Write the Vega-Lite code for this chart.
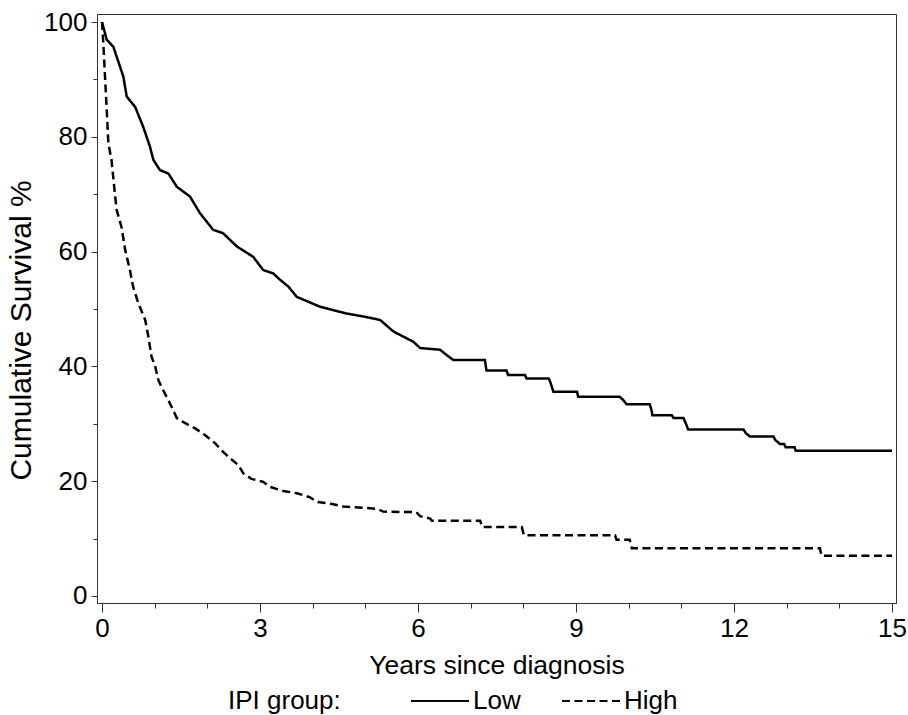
{
  "$schema": "https://vega.github.io/schema/vega-lite/v6.json",
  "autosize": "none",
  "width": 799,
  "height": 589,
  "padding": {"left": 97, "top": 14, "right": 12, "bottom": 112},
  "background": "white",
  "config": {
    "font": "Liberation Sans",
    "view": {"stroke": "#333", "strokeWidth": 1},
    "axis": {"grid": false, "domainColor": "#333", "tickColor": "#333", "labelColor": "black", "titleColor": "black", "labelFont": "Liberation Sans", "titleFont": "Liberation Sans", "titleFontWeight": "normal", "labelFontSize": 26}
  },
  "data": {"values": [
    {"group": "Low", "t": 0, "s": 100},
    {"group": "Low", "t": 0.09, "s": 96.9},
    {"group": "Low", "t": 0.215, "s": 95.7},
    {"group": "Low", "t": 0.405, "s": 90.5},
    {"group": "Low", "t": 0.47, "s": 87},
    {"group": "Low", "t": 0.63, "s": 85.2},
    {"group": "Low", "t": 0.78, "s": 81.8},
    {"group": "Low", "t": 0.91, "s": 78.3},
    {"group": "Low", "t": 0.975, "s": 76},
    {"group": "Low", "t": 1.1, "s": 74.2},
    {"group": "Low", "t": 1.26, "s": 73.6},
    {"group": "Low", "t": 1.42, "s": 71.3},
    {"group": "Low", "t": 1.67, "s": 69.6},
    {"group": "Low", "t": 1.86, "s": 66.7},
    {"group": "Low", "t": 2.11, "s": 63.8},
    {"group": "Low", "t": 2.3, "s": 63.2},
    {"group": "Low", "t": 2.56, "s": 60.9},
    {"group": "Low", "t": 2.87, "s": 59.1},
    {"group": "Low", "t": 3.06, "s": 56.8},
    {"group": "Low", "t": 3.25, "s": 56.2},
    {"group": "Low", "t": 3.38, "s": 55.1},
    {"group": "Low", "t": 3.54, "s": 53.9},
    {"group": "Low", "t": 3.7, "s": 52.1},
    {"group": "Low", "t": 4.14, "s": 50.4},
    {"group": "Low", "t": 4.65, "s": 49.2},
    {"group": "Low", "t": 4.96, "s": 48.7},
    {"group": "Low", "t": 5.28, "s": 48.1},
    {"group": "Low", "t": 5.53, "s": 46.1},
    {"group": "Low", "t": 5.91, "s": 44.3},
    {"group": "Low", "t": 6.04, "s": 43.2},
    {"group": "Low", "t": 6.42, "s": 42.9},
    {"group": "Low", "t": 6.5, "s": 42.3},
    {"group": "Low", "t": 6.67, "s": 41.1},
    {"group": "Low", "t": 7.27, "s": 41.1},
    {"group": "Low", "t": 7.3, "s": 39.3},
    {"group": "Low", "t": 7.68, "s": 39.3},
    {"group": "Low", "t": 7.71, "s": 38.5},
    {"group": "Low", "t": 8.03, "s": 38.5},
    {"group": "Low", "t": 8.06, "s": 37.9},
    {"group": "Low", "t": 8.48, "s": 37.9},
    {"group": "Low", "t": 8.51, "s": 37.3},
    {"group": "Low", "t": 8.57, "s": 35.6},
    {"group": "Low", "t": 9.02, "s": 35.6},
    {"group": "Low", "t": 9.04, "s": 34.7},
    {"group": "Low", "t": 9.83, "s": 34.7},
    {"group": "Low", "t": 9.9, "s": 34.1},
    {"group": "Low", "t": 9.96, "s": 33.4},
    {"group": "Low", "t": 10.4, "s": 33.4},
    {"group": "Low", "t": 10.43, "s": 32.5},
    {"group": "Low", "t": 10.45, "s": 31.5},
    {"group": "Low", "t": 10.82, "s": 31.5},
    {"group": "Low", "t": 10.85, "s": 31.0},
    {"group": "Low", "t": 11.04, "s": 31.0},
    {"group": "Low", "t": 11.07, "s": 30.4},
    {"group": "Low", "t": 11.13, "s": 29.0},
    {"group": "Low", "t": 12.18, "s": 29.0},
    {"group": "Low", "t": 12.22, "s": 28.4},
    {"group": "Low", "t": 12.3, "s": 27.8},
    {"group": "Low", "t": 12.75, "s": 27.8},
    {"group": "Low", "t": 12.78, "s": 27.2},
    {"group": "Low", "t": 12.87, "s": 26.5},
    {"group": "Low", "t": 12.95, "s": 26.5},
    {"group": "Low", "t": 12.98, "s": 25.9},
    {"group": "Low", "t": 13.15, "s": 25.9},
    {"group": "Low", "t": 13.17, "s": 25.3},
    {"group": "Low", "t": 15, "s": 25.3},
    {"group": "High", "t": 0, "s": 100},
    {"group": "High", "t": 0.025, "s": 96.3},
    {"group": "High", "t": 0.057, "s": 90.5},
    {"group": "High", "t": 0.09, "s": 84.7},
    {"group": "High", "t": 0.12, "s": 78.9},
    {"group": "High", "t": 0.18, "s": 76},
    {"group": "High", "t": 0.25, "s": 69.6},
    {"group": "High", "t": 0.28, "s": 67.2},
    {"group": "High", "t": 0.37, "s": 64.3},
    {"group": "High", "t": 0.44, "s": 60.3},
    {"group": "High", "t": 0.53, "s": 56.8},
    {"group": "High", "t": 0.59, "s": 53.9},
    {"group": "High", "t": 0.69, "s": 51.0},
    {"group": "High", "t": 0.82, "s": 48.1},
    {"group": "High", "t": 0.88, "s": 45.2},
    {"group": "High", "t": 0.94, "s": 41.7},
    {"group": "High", "t": 1.01, "s": 40.0},
    {"group": "High", "t": 1.07, "s": 37.6},
    {"group": "High", "t": 1.16, "s": 35.9},
    {"group": "High", "t": 1.26, "s": 34.1},
    {"group": "High", "t": 1.35, "s": 32.4},
    {"group": "High", "t": 1.42, "s": 31.0},
    {"group": "High", "t": 1.58, "s": 30.1},
    {"group": "High", "t": 1.77, "s": 29.2},
    {"group": "High", "t": 1.96, "s": 28.0},
    {"group": "High", "t": 2.15, "s": 26.6},
    {"group": "High", "t": 2.3, "s": 25.1},
    {"group": "High", "t": 2.43, "s": 24.0},
    {"group": "High", "t": 2.59, "s": 22.8},
    {"group": "High", "t": 2.68, "s": 21.4},
    {"group": "High", "t": 2.84, "s": 20.4},
    {"group": "High", "t": 3.06, "s": 19.9},
    {"group": "High", "t": 3.19, "s": 19.0},
    {"group": "High", "t": 3.44, "s": 18.3},
    {"group": "High", "t": 3.7, "s": 17.9},
    {"group": "High", "t": 3.95, "s": 17.2},
    {"group": "High", "t": 4.08, "s": 16.4},
    {"group": "High", "t": 4.39, "s": 16.0},
    {"group": "High", "t": 4.58, "s": 15.6},
    {"group": "High", "t": 5.22, "s": 15.2},
    {"group": "High", "t": 5.34, "s": 14.7},
    {"group": "High", "t": 5.97, "s": 14.6},
    {"group": "High", "t": 6.04, "s": 13.9},
    {"group": "High", "t": 6.23, "s": 13.5},
    {"group": "High", "t": 6.26, "s": 13.1},
    {"group": "High", "t": 7.18, "s": 13.1},
    {"group": "High", "t": 7.22, "s": 12.0},
    {"group": "High", "t": 7.97, "s": 12.0},
    {"group": "High", "t": 8.01, "s": 10.6},
    {"group": "High", "t": 9.74, "s": 10.6},
    {"group": "High", "t": 9.77, "s": 9.8},
    {"group": "High", "t": 10.02, "s": 9.8},
    {"group": "High", "t": 10.06, "s": 8.3},
    {"group": "High", "t": 13.63, "s": 8.3},
    {"group": "High", "t": 13.66, "s": 7.0},
    {"group": "High", "t": 15, "s": 7.0}
  ]},
  "mark": {"type": "line", "color": "black", "strokeWidth": 2.5, "interpolate": "linear", "clip": true},
  "encoding": {
    "x": {
      "field": "t", "type": "quantitative",
      "scale": {"domain": [-0.095, 15.075], "nice": false, "zero": false},
      "axis": {
        "title": "Years since diagnosis", "titleFontSize": 26.5, "titlePadding": 11,
        "values": [0,1,2,3,4,5,6,7,8,9,10,11,12,13,14,15],
        "labelExpr": "datum.value % 3 === 0 ? datum.label : ''",
        "tickSize": {"condition": {"test": "datum.value % 3 === 0", "value": 9}, "value": 5},
        "labelPadding": 3, "labelFlush": false, "labelOverlap": false
      }
    },
    "y": {
      "field": "s", "type": "quantitative",
      "scale": {"domain": [-1.22, 101.4], "nice": false, "zero": false},
      "axis": {
        "title": "Cumulative Survival %", "titleFontSize": 30, "titlePadding": 7, "titleY": 316,
        "values": [0,10,20,30,40,50,60,70,80,90,100],
        "labelExpr": "datum.value % 20 === 0 ? datum.label : ''",
        "tickSize": {"condition": {"test": "datum.value % 20 === 0", "value": 6}, "value": 4},
        "labelPadding": 4, "labelFlush": false, "labelOverlap": false
      }
    },
    "strokeDash": {
      "field": "group", "type": "nominal",
      "scale": {"domain": ["Low", "High"], "range": [[1, 0], [8, 4.5]]},
      "legend": {
        "title": "IPI group:", "orient": "none", "legendX": 131, "legendY": 657,
        "direction": "horizontal", "titleOrient": "left", "titleFontSize": 26, "titleFontWeight": "normal",
        "titleColor": "black", "titlePadding": 69, "titleBaseline": "line-top", "titleLineHeight": 16, "titleAnchor": "middle",
        "symbolType": "stroke", "symbolSize": 3364, "symbolStrokeWidth": 2, "symbolStrokeColor": "black",
        "labelFontSize": 26, "labelColor": "black", "labelOffset": 3, "columnPadding": 37, "padding": 0
      }
    }
  }
}
